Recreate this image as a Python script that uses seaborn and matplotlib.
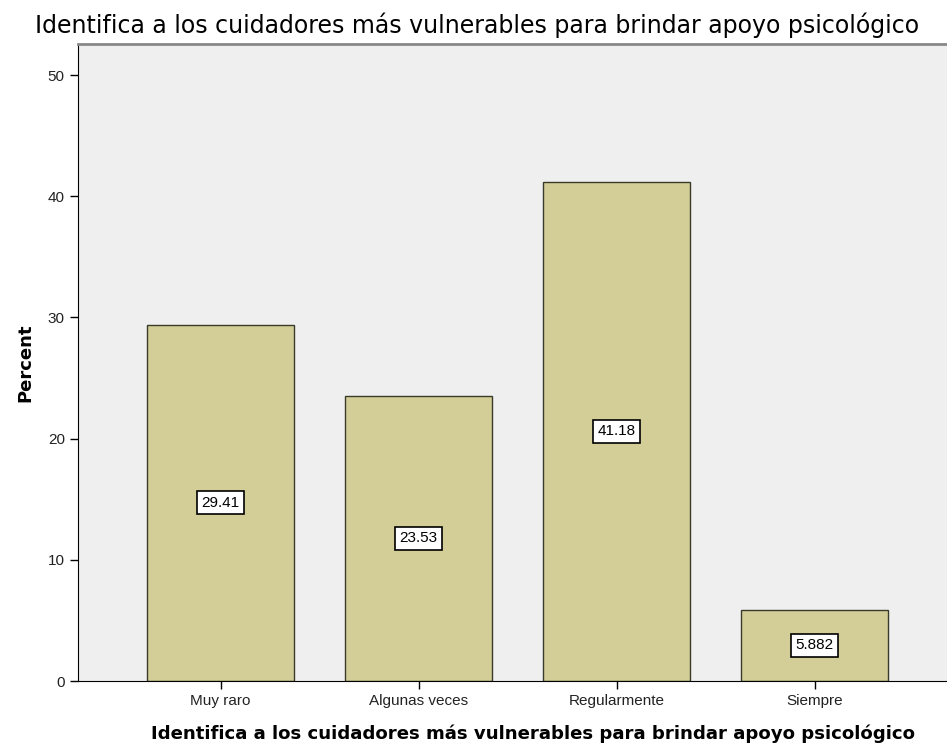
import pandas as pd
import seaborn as sns
import matplotlib.pyplot as plt

categories = ['Muy raro', 'Algunas veces', 'Regularmente', 'Siempre']
percent = [29.41, 23.53, 41.18, 5.882]
labels = ['29.41', '23.53', '41.18', '5.882']

titulo = 'Identifica a los cuidadores más vulnerables para brindar apoyo psicológico'

df = pd.DataFrame({'cat': categories, 'pct': percent})

sns.set_style('white')
plt.rcParams['font.family'] = ['Liberation Sans', 'DejaVu Sans']
plt.rcParams['text.color'] = 'black'
plt.rcParams['axes.labelcolor'] = 'black'

fig = plt.figure(figsize=(9.47, 7.53), dpi=100)
# el eje se sale por la derecha como en el original
ax = fig.add_axes([0.0824, 0.0956, 0.961, 0.846])
ax.set_facecolor('#efefef')

sns.barplot(data=df, x='cat', y='pct', color='#d3ce97', saturation=1,
            width=0.745, edgecolor='#3a3a2a', linewidth=1.0, ax=ax)

for i, (v, t) in enumerate(zip(percent, labels)):
    ax.text(i, v / 2, t, ha='center', va='center', fontsize=11,
            bbox=dict(boxstyle='square,pad=0.3', fc='white', ec='black', lw=1.2))

ax.set_ylim(0, 52.56)
ax.set_xlim(-0.72, 3.876)
ax.set_yticks([0, 10, 20, 30, 40, 50])
ax.tick_params(axis='both', direction='out', length=6, width=1, colors='black',
               labelsize=11, left=True, bottom=True)
for lab in ax.get_xticklabels() + ax.get_yticklabels():
    lab.set_color('#222222')

ax.spines['left'].set_color('black')
ax.spines['bottom'].set_color('black')
ax.spines['top'].set_color('#888888')
ax.spines['top'].set_linewidth(2)
ax.spines['right'].set_visible(False)

ax.set_ylabel('Percent', fontsize=13, fontweight='bold',
              family='DejaVu Sans', labelpad=10)
ax.set_xlabel(titulo, fontsize=13.1, fontweight='bold',
              family='DejaVu Sans', labelpad=12)
fig.text(0.504, 0.967, titulo, ha='center', va='center', fontsize=17,
         family='DejaVu Sans', color='black')

fig.savefig('out.png', dpi=100)
